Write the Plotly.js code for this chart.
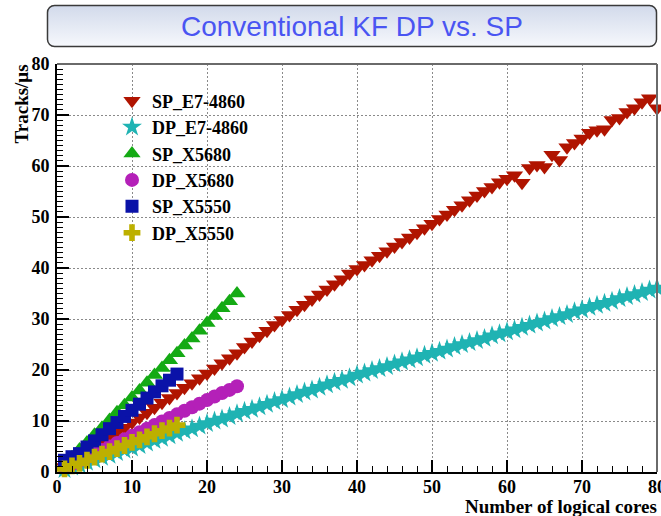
<!DOCTYPE html>
<html><head><meta charset="utf-8">
<script src="https://cdn.plot.ly/plotly-3.0.1.min.js"></script>
<style>html,body{margin:0;padding:0;background:#fff;}#chart{width:661px;height:516px;}</style>
</head><body><div id="chart"></div>
<script>
// ---- data ----
const coresE7 = [1,2,3,4,5,6,7,8,9,10,11,12,13,14,15,16,17,18,19,20,21,22,23,24,25,26,27,28,29,30,31,32,33,34,35,36,37,38,39,40,41,42,43,44,45,46,47,48,49,50,51,52,53,54,55,56,57,58,59,60,61,62,63,64,65,66,67,68,69,70,71,72,73,74,75,76,77,78,79,80];
const spE7 = [1.0,1.9,2.9,3.9,4.8,5.8,6.8,7.8,8.7,9.7,10.7,11.6,12.6,13.6,14.5,15.5,16.5,17.4,18.4,19.3,20.3,21.3,22.3,23.3,24.5,25.6,26.7,27.7,28.8,29.8,30.8,31.8,32.8,33.8,34.8,35.8,36.8,37.8,38.9,39.8,40.6,41.5,42.4,43.3,44.2,45.1,46.0,46.9,47.8,48.7,49.6,50.5,51.4,52.3,53.3,54.2,55.1,55.9,56.8,57.5,58.2,56.7,59.6,60.2,59.8,62.2,61.2,63.7,64.5,65.4,66.5,67.0,67.2,69.0,69.4,70.6,71.3,72.5,73.3,71.3];
const dpE7 = [0.5,1.0,1.4,1.9,2.4,2.9,3.3,3.8,4.3,4.7,5.2,5.7,6.2,6.6,7.1,7.6,8.1,8.5,9.0,9.5,10.0,10.4,10.9,11.4,11.9,12.3,12.8,13.3,13.8,14.2,14.7,15.2,15.7,16.1,16.6,17.1,17.6,18.0,18.5,19.0,19.4,19.9,20.3,20.7,21.2,21.6,22.0,22.4,22.9,23.3,23.7,24.1,24.6,25.0,25.4,25.8,26.2,26.7,27.1,27.5,27.9,28.4,28.8,29.2,29.6,30.1,30.5,30.9,31.4,31.8,32.3,32.7,33.1,33.5,34.0,34.4,34.8,35.2,35.7,36.1];
const coresX5680 = [1,2,3,4,5,6,7,8,9,10,11,12,13,14,15,16,17,18,19,20,21,22,23,24];
const spX5680 = [1.5,2.9,4.4,5.8,7.3,8.7,10.2,11.7,13.1,14.6,16.0,17.5,19.0,20.4,21.9,23.3,24.8,26.2,27.7,29.2,30.6,32.1,33.5,35.0];
const dpX5680 = [0.8,1.5,2.2,2.9,3.6,4.3,5.0,5.7,6.4,7.1,7.8,8.5,9.2,9.9,10.6,11.3,12.0,12.7,13.4,14.1,14.8,15.5,16.1,16.8];
const coresX5550 = [1,2,3,4,5,6,7,8,9,10,11,12,13,14,15,16];
const spX5550 = [2.3,3.0,3.6,4.9,6.1,7.3,8.5,9.7,10.9,12.1,13.3,14.5,15.7,16.9,18.0,19.2];
const dpX5550 = [0.6,1.2,1.7,2.3,2.9,3.5,4.0,4.6,5.2,5.8,6.3,6.9,7.5,8.1,8.6,9.2];
const xTicks = [0,10,20,30,40,50,60,70,80];
const yTicks = [0,10,20,30,40,50,60,70,80];

// ---- geometry helpers (pixels -> paper) ----
const L = 57, R = 657, T = 64, B = 472;
const px = v => (v - L) / (R - L);
const py = v => (B - v) / (B - T);

function tr(name, x, y, symbol, size, color) {
  return {type: 'scatter', mode: 'markers', name: name, x: x, y: y, cliponaxis: false,
    marker: {symbol: symbol, size: size, color: color, line: {width: 0}}};
}
const data = [
  tr('SP_E7-4860', coresE7, spE7, 'triangle-down', 15, '#b01400'),
  tr('DP_E7-4860', coresE7, dpE7, 'star', 15, '#1fb3b3'),
  tr('SP_X5680', coresX5680, spX5680, 'triangle-up', 15, '#14aa14'),
  tr('DP_X5680', coresX5680, dpX5680, 'circle', 14, '#b420b8'),
  tr('SP_X5550', coresX5550, spX5550, 'square', 13, '#0a12a8'),
  tr('DP_X5550', coresX5550, dpX5550, 'cross', 14, '#bdb000')
];

const serifBold = {family: 'Liberation Serif, Times New Roman, serif', size: 18, color: '#000', weight: 'bold'};
const axisCommon = {
  range: [0, 80], tickmode: 'array', showline: true, linecolor: '#000', linewidth: 2,
  ticks: 'inside', ticklen: 12, tickwidth: 1.5, tickcolor: '#000',
  showgrid: true, gridcolor: '#8a8a8a', gridwidth: 1, griddash: '2px,2px',
  zeroline: false, tickfont: serifBold, fixedrange: true, ticklabeloverflow: 'allow'
};

const svg = '<svg xmlns="http://www.w3.org/2000/svg" width="612" height="44"><defs><linearGradient id="g" x1="0" y1="0" x2="0" y2="1"><stop offset="0" stop-color="#d2daeb"/><stop offset="1" stop-color="#f6f8fc"/></linearGradient></defs><rect x="1.5" y="1.5" width="609" height="41" rx="7" ry="7" fill="url(#g)" stroke="#3a3a3a" stroke-width="1.5"/></svg>';
const svgURI = 'data:image/svg+xml;base64,' + btoa(svg);

const layout = {
  width: 661, height: 516,
  margin: {l: L, r: 661 - R, t: T, b: 516 - B, pad: 0},
  paper_bgcolor: '#fff', plot_bgcolor: '#fff',
  showlegend: true,
  legend: {x: px(112), y: py(82.5), xanchor: 'left', yanchor: 'top', bgcolor: 'rgba(0,0,0,0)',
    borderwidth: 0, font: {family: 'Liberation Serif, Times New Roman, serif', size: 18, color: '#000', weight: 'bold'}},
  xaxis: Object.assign({}, axisCommon, {tickvals: xTicks, ticktext: xTicks.map(String), ticklabelstandoff: -3,
    minor: {dtick: 2, ticks: 'inside', ticklen: 6, tickwidth: 1, tickcolor: '#000', showgrid: false}}),
  yaxis: Object.assign({}, axisCommon, {tickvals: yTicks, ticktext: yTicks.map(String), ticklabelstandoff: 2,
    minor: {dtick: 1, ticks: 'inside', ticklen: 6, tickwidth: 1, tickcolor: '#000', showgrid: false}}),
  images: [{source: svgURI, xref: 'paper', yref: 'paper', x: px(46), y: py(4), sizex: 612 / (R - L), sizey: 44 / (B - T),
    xanchor: 'left', yanchor: 'top', sizing: 'stretch', layer: 'below'}],
  shapes: [
    {type: 'line', xref: 'paper', yref: 'paper', x0: 0, x1: 1, y0: 1, y1: 1, line: {color: '#6a6a6a', width: 2}},
    {type: 'line', xref: 'paper', yref: 'paper', x0: 1, x1: 1, y0: 0, y1: 1, line: {color: '#6a6a6a', width: 2}}
  ],
  annotations: [
    {text: 'Conventional KF DP vs. SP', xref: 'paper', yref: 'paper', x: px(352), y: py(26), xanchor: 'center', yanchor: 'middle',
      showarrow: false, font: {family: 'Liberation Sans, Arial, sans-serif', size: 28, color: '#4a55f2'}},
    {text: 'Number of logical cores', xref: 'paper', yref: 'paper', x: px(659), y: py(507), xanchor: 'right', yanchor: 'middle',
      showarrow: false, font: {family: 'Liberation Serif, Times New Roman, serif', size: 19, color: '#000', weight: 'bold'}},
    {text: 'Tracks/μs', xref: 'paper', yref: 'paper', x: px(21), y: py(63), xanchor: 'center', yanchor: 'top', textangle: -90,
      showarrow: false, font: {family: 'Liberation Serif, Times New Roman, serif', size: 19, color: '#000', weight: 'bold'}}
  ]
};

Plotly.newPlot('chart', data, layout, {displayModeBar: false, staticPlot: true});
</script>
</body></html>
